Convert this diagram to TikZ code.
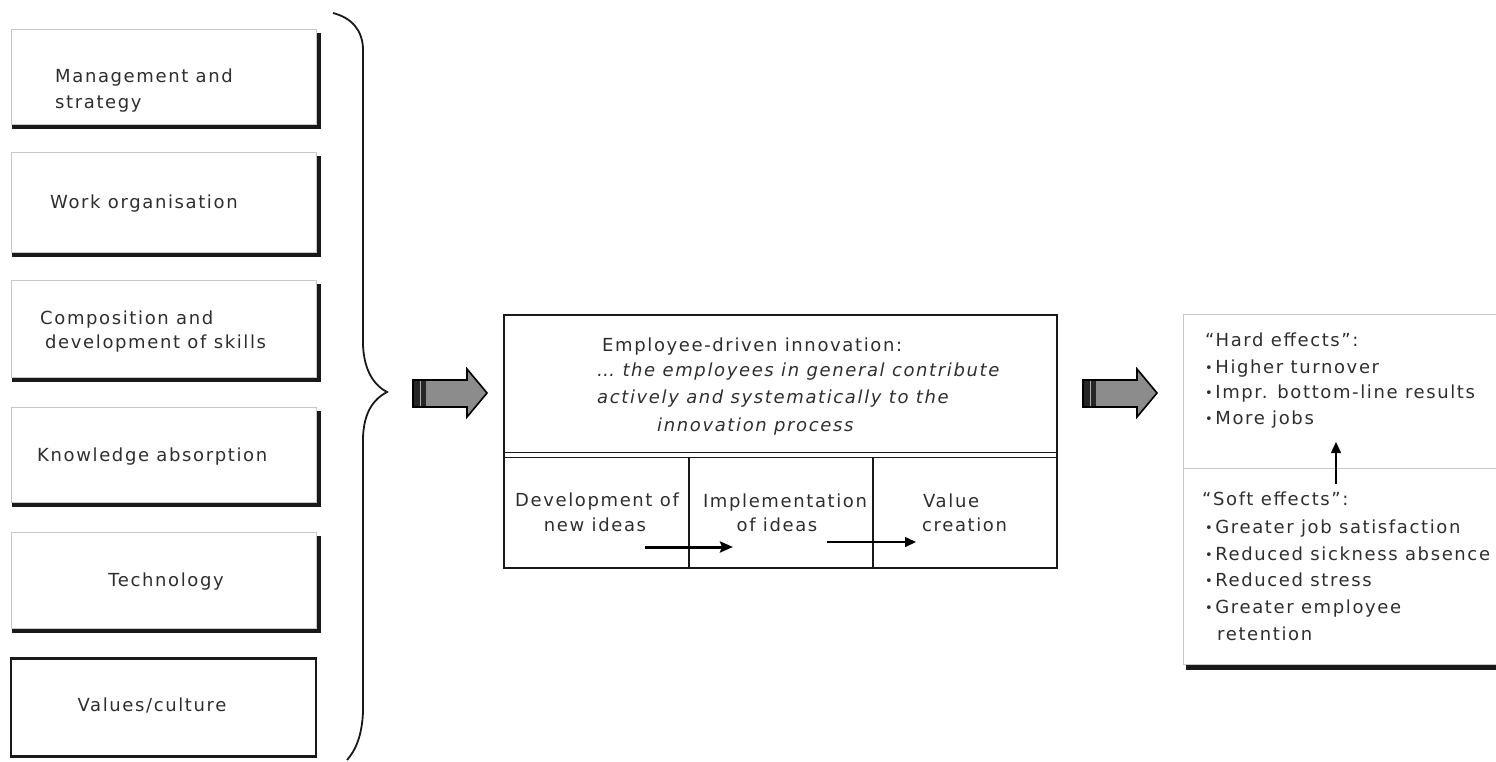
\documentclass[tikz,border=0pt]{standalone}
\usepackage{fontspec}
\setmainfont{DejaVu Sans}[LetterSpace=9]
\usetikzlibrary{arrows.meta}
\definecolor{txt}{HTML}{2E2E2E}
\definecolor{arrowgray}{HTML}{8C8C8C}
\newcommand{\bul}{\raisebox{0.5pt}{\fontsize{13}{13}\selectfont •}\hspace{2.5pt}}
\begin{document}
\begin{tikzpicture}[x=1pt,y=-1pt,
  lbox/.style={draw=black!22, line width=0.8pt, minimum width=305pt, inner sep=0pt},
  shadowline/.style={line width=4.5pt, line join=miter, black!90},
  lbl/.style={text=txt, font=\fontsize{18}{22}\selectfont, inner sep=0pt, anchor=base west},
  lblc/.style={lbl, anchor=base},
  ital/.style={lbl, font=\fontsize{18}{22}\selectfont\itshape},
  bigarrow/.style={fill=arrowgray, draw=black, line width=1.6pt, line join=miter},
  smallarrow/.style={-{Triangle[length=11pt,width=10pt]}, black},
  thickarrow/.style={-{Stealth[length=13pt,width=11pt,inset=2pt]}, black}
]
\useasboundingbox (0,0) rectangle (1496,762);

% ---------- left boxes ----------
\node[lbox, minimum height=95pt]  (b1) at (163.5,76.5)  {};
\node[lbox, minimum height=100pt] (b2) at (163.5,202)   {};
\node[lbox, minimum height=97pt]  (b3) at (163.5,328.5) {};
\node[lbox, minimum height=95pt]  (b4) at (163.5,454.5) {};
\node[lbox, minimum height=96pt]  (b5) at (163.5,580)   {};
\foreach \b in {b1,b2,b3,b4,b5}{
  \draw[shadowline] ([shift={(1,2.5)}]\b.south west) -- ([shift={(2.5,2.5)}]\b.south east) -- ([shift={(2.5,4)}]\b.north east);
}
\node[draw=black!90, line width=2.6pt, minimum width=305pt, minimum height=98pt, inner sep=0pt] (b6) at (163.5,707.5) {};

\node[lbl] (t1a) at (55,83)  {Management and};
\node[lbl] (t1b) at (55,109) {strategy};
\node[lbl] (t2)  at (50,209) {Work organisation};
\node[lbl] (t3a) at (40,324) {Composition and};
\node[lbl] (t3b) at (45,348) {development of skills};
\node[lbl] (t4)  at (37,461) {Knowledge absorption};
\node[lblc] (t5) at (166,586) {Technology};
\node[lblc] (t6) at (152,711) {Values/culture};

% ---------- brace ----------
\draw[line width=1.8pt, black!90]
  (333,13) .. controls (352,18) and (362,30) .. (363,48)
  -- (363,345) .. controls (364,368) and (372,384) .. (387,392)
  .. controls (372,400) and (364,414) .. (363,437)
  -- (363,712) .. controls (362,735) and (356,750) .. (347,760);

% ---------- big arrows ----------
\foreach \dx/\nm in {0/ba1,670/ba2}{
  \begin{scope}[xshift=\dx]
    \draw[bigarrow] (413,380) -- (467,380) -- (467,369) -- (487,393) -- (467,417) -- (467,407) -- (413,407) -- cycle;
    \fill[black!85] (414,381) rectangle (426,406);
    \draw[arrowgray!70, line width=0.8pt] (420,381) -- (420,406);
    \coordinate (\nm) at (450,393);
  \end{scope}
}

% ---------- middle box ----------
\node[draw=black!90, line width=2.5pt, minimum width=553pt, minimum height=253pt, inner sep=0pt] (mid) at (780.5,441.5) {};
\coordinate (dl1) at (504,452.5); \coordinate (dr1) at (1057,452.5);
\coordinate (dl2) at (504,457.5); \coordinate (dr2) at (1057,457.5);
\draw[line width=1.6pt, black!90] (dl1) -- (dr1);
\draw[line width=1.6pt, black!90] (dl2) -- (dr2);
\coordinate (v1t) at (689,457.5); \coordinate (v1b) at (689,568);
\coordinate (v2t) at (873,457.5); \coordinate (v2b) at (873,568);
\draw[line width=1.5pt, black!90] (v1t) -- (v1b);
\draw[line width=1.5pt, black!90] (v2t) -- (v2b);

\node[lbl]  (m1) at (602,351) {Employee-driven innovation:};
\node[ital] (m2) at (597,376) {… the employees in general contribute};
\node[ital] (m3) at (597,403) {actively and systematically to the};
\node[ital] (m4) at (657,431) {innovation process};

\node[lblc] (c1a) at (597,506) {Development of};
\node[lblc] (c1b) at (595,531) {new ideas};
\node[lblc] (c2a) at (785,507) {Implementation};
\node[lblc] (c2b) at (777,531) {of ideas};
\node[lbl]  (c3a) at (923,507) {Value};
\node[lbl]  (c3b) at (922,531) {creation};

\coordinate (a1s) at (645,547); \coordinate (a1e) at (733,547);
\coordinate (a2s) at (827,542); \coordinate (a2e) at (916,542);
\draw[thickarrow, line width=3pt] (a1s) -- (a1e);
\draw[smallarrow, line width=1.5pt] (a2s) -- (a2e);

% ---------- right box ----------
\coordinate (rtl) at (1183,314); \coordinate (rtr) at (1500,314);
\coordinate (rbl) at (1183,664); \coordinate (rbr) at (1500,664);
\draw[black!22, line width=0.8pt] (rtr) -- (rtl) -- (rbl) -- (rbr);
\coordinate (rdl) at (1183,468); \coordinate (rdr) at (1500,468);
\draw[black!22, line width=0.8pt] (rdl) -- (rdr);
\coordinate (rsl) at (1186,667.5); \coordinate (rsr) at (1500,667.5);
\draw[line width=4.5pt, black!90] (rsl) -- (rsr);

\node[lbl] (h0) at (1205,346) {“Hard effects”:};
\node[lbl] (h1) at (1205,373) {\bul Higher turnover};
\node[lbl] (h2) at (1205,398) {\bul Impr. bottom-line results};
\node[lbl] (h3) at (1205,424) {\bul More jobs};

\node[lbl] (s0) at (1202,505) {“Soft effects”:};
\node[lbl] (s1) at (1205,533) {\bul Greater job satisfaction};
\node[lbl] (s2) at (1205,560) {\bul Reduced sickness absence};
\node[lbl] (s3) at (1205,586) {\bul Reduced stress};
\node[lbl] (s4) at (1205,613) {\bul Greater employee};
\node[lbl] (s5) at (1217,640) {retention};

\coordinate (ua) at (1336,484); \coordinate (ub) at (1336,442);
\draw[smallarrow, line width=1.5pt] (ua) -- (ub);
\end{tikzpicture}
\end{document}
